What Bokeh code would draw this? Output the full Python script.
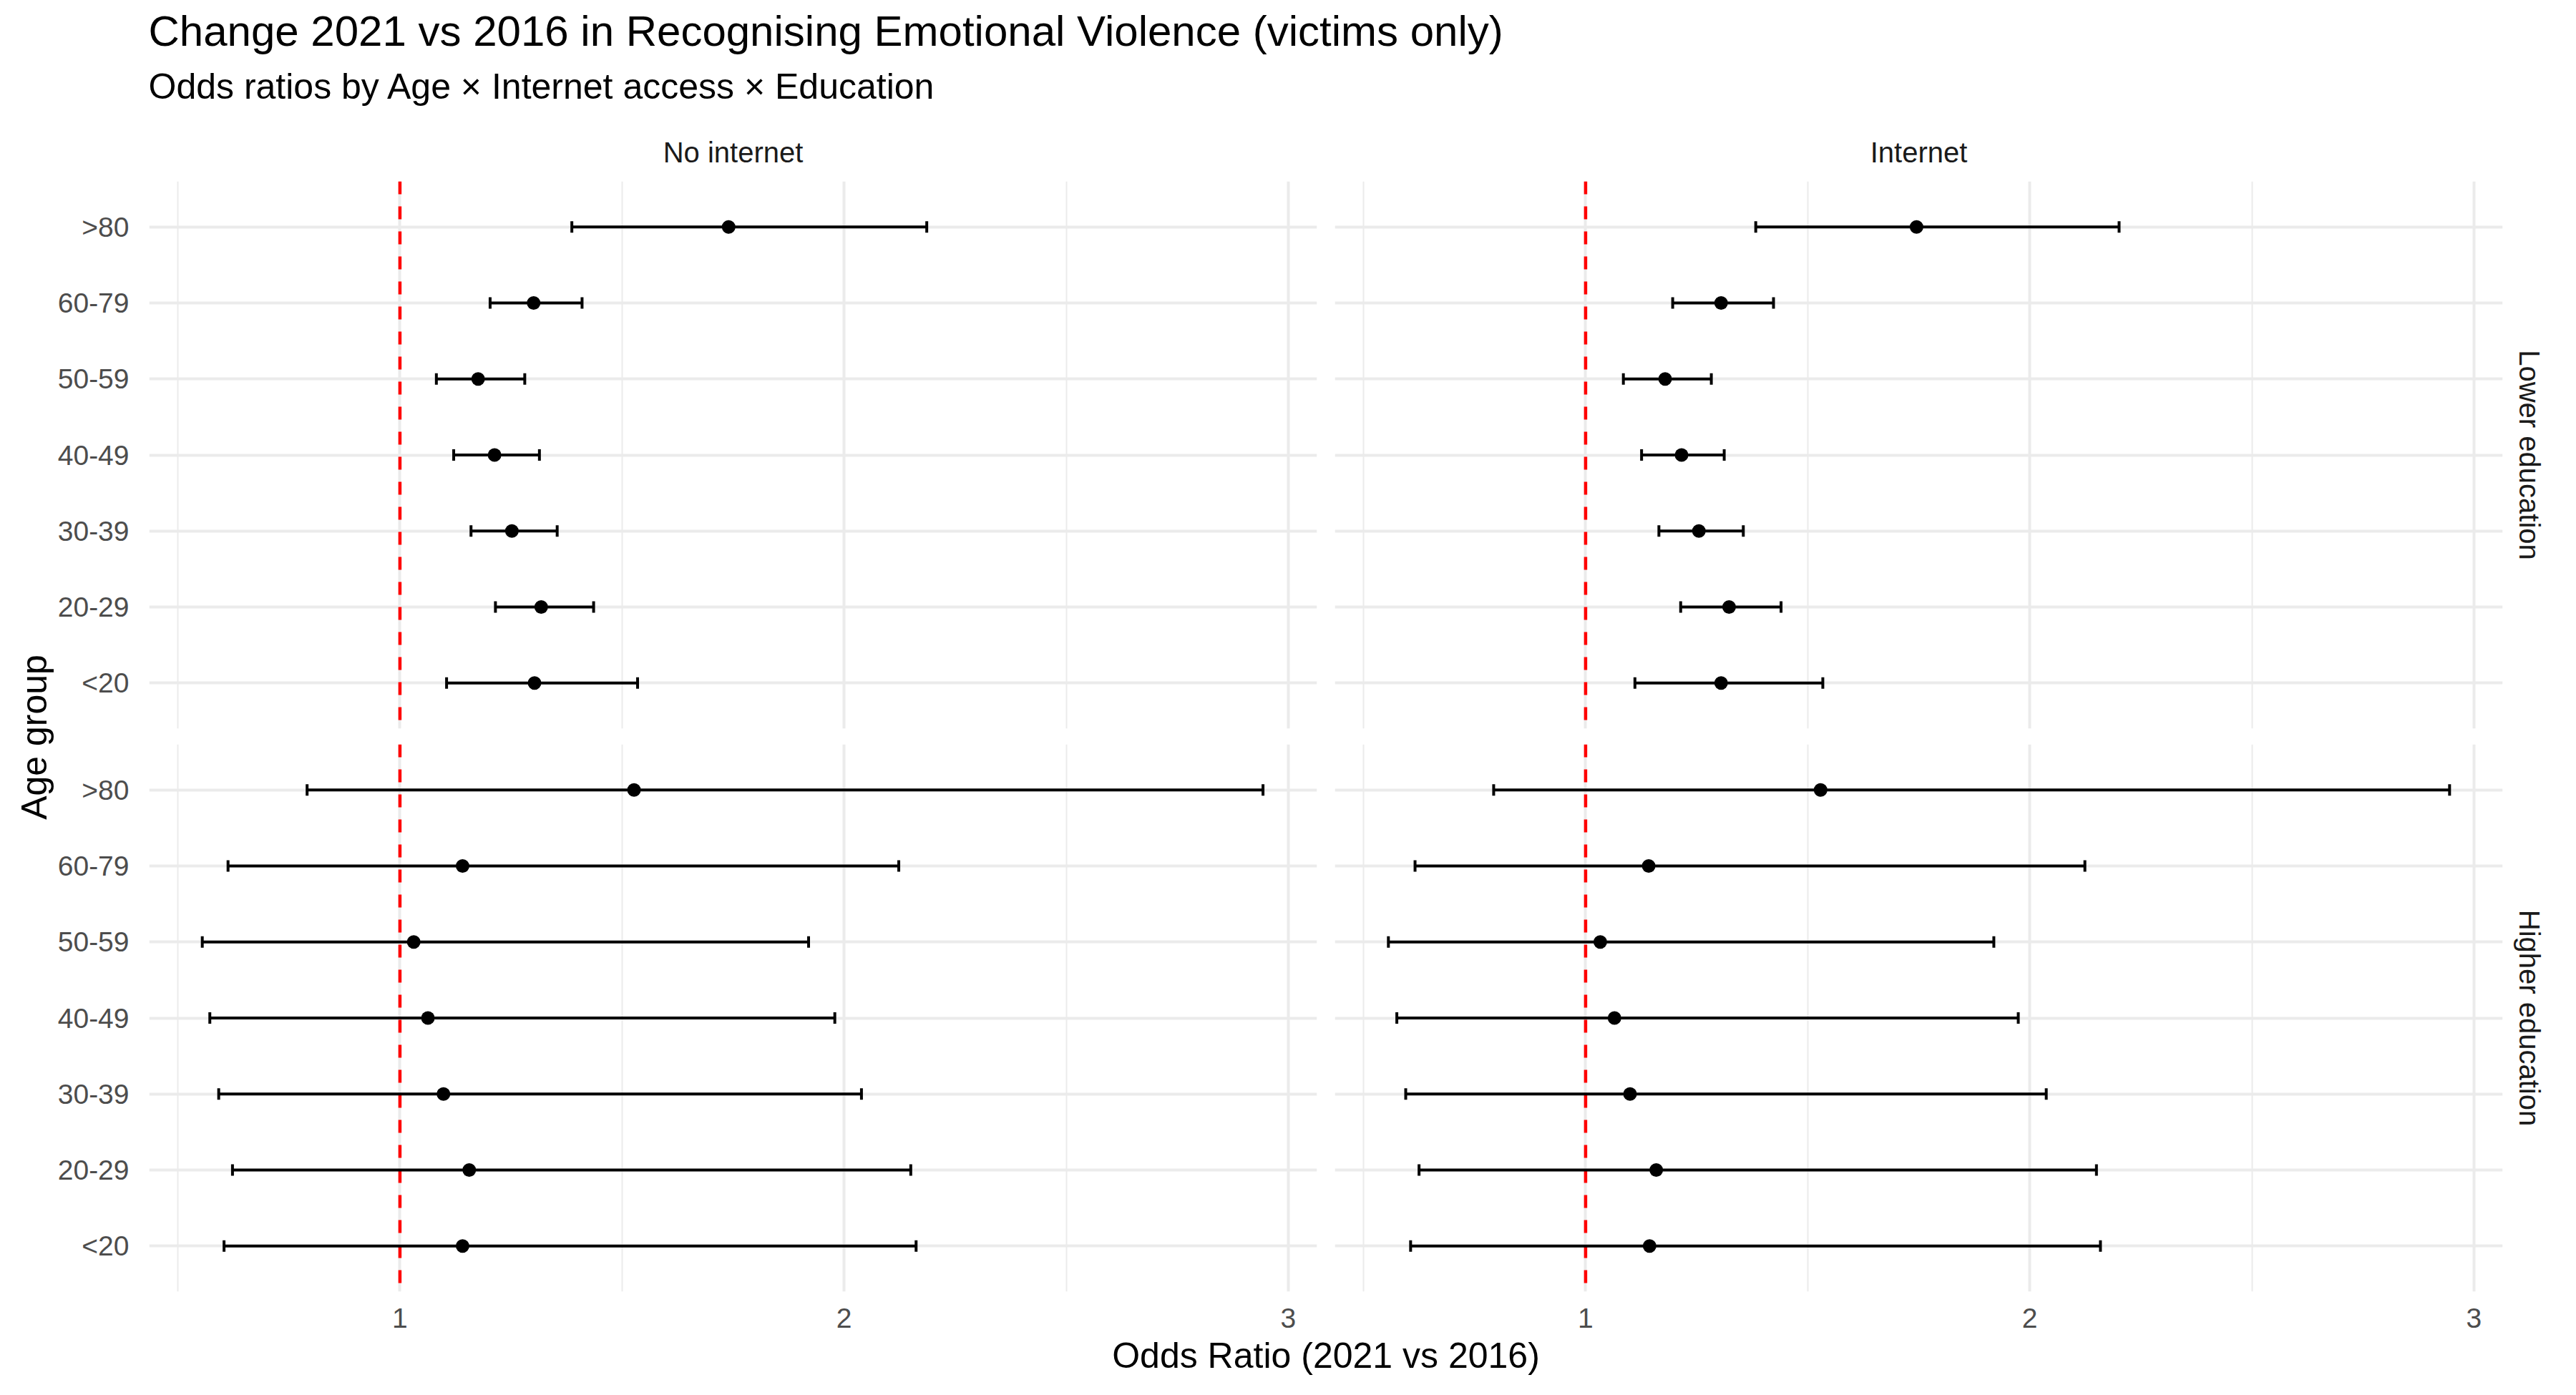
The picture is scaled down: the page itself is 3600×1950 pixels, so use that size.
import numpy as np
from bokeh.plotting import figure
from bokeh.models import (ColumnDataSource, Range1d, FactorRange, FixedTicker,
                          CategoricalTicker, Span, Label)
from bokeh.layouts import column, row
from bokeh.embed import file_html
from bokeh.resources import INLINE

FONT = "Liberation Sans"

# ---------------- data ----------------
ages = ["<20", "20-29", "30-39", "40-49", "50-59", "60-79", ">80"]

col_levels = ["No internet", "Internet"]
row_levels = ["Lower education", "Higher education"]

# Lower education, No internet
low_noint_or = [1.303, 1.318, 1.252, 1.213, 1.176, 1.301, 1.740]
low_noint_lo = [1.105, 1.215, 1.160, 1.121, 1.082, 1.203, 1.387]
low_noint_hi = [1.535, 1.436, 1.354, 1.314, 1.281, 1.410, 2.186]

# Lower education, Internet
low_int_or = [1.305, 1.323, 1.255, 1.216, 1.179, 1.305, 1.745]
low_int_lo = [1.111, 1.214, 1.165, 1.126, 1.085, 1.196, 1.383]
low_int_hi = [1.534, 1.440, 1.355, 1.312, 1.283, 1.423, 2.201]

# Higher education, No internet
high_noint_or = [1.141, 1.156, 1.098, 1.063, 1.031, 1.141, 1.527]
high_noint_lo = [0.604, 0.623, 0.592, 0.572, 0.555, 0.613, 0.791]
high_noint_hi = [2.162, 2.150, 2.039, 1.979, 1.920, 2.123, 2.943]

# Higher education, Internet
high_int_or = [1.144, 1.159, 1.100, 1.065, 1.033, 1.142, 1.529]
high_int_lo = [0.606, 0.625, 0.595, 0.575, 0.556, 0.616, 0.793]
high_int_hi = [2.159, 2.150, 2.037, 1.974, 1.919, 2.124, 2.945]

x_ticks = [1, 2, 3]
x_minor_ticks = [0.5, 1.5, 2.5]
ref_line = 1.0

TITLE = "Change 2021 vs 2016 in Recognising Emotional Violence (victims only)"
SUBTITLE = "Odds ratios by Age \u00d7 Internet access \u00d7 Education"
XLABEL = "Odds Ratio (2021 vs 2016)"
YLABEL = "Age group"

# ---------------- geometry / style ----------------
FW, FH = 1632, 765
HEADER_H = 253
LEFT_W = 75
STRIP_W = 90
BOT_B = 62
ROW1_H = 0 + FH + 11
ROW2_H = 11 + FH + BOT_B
BODY_H = ROW1_H + ROW2_H
FOOTER_H = 1950 - HEADER_H - BODY_H

TITLE_PX = 60
SUB_PX = 50
AXT_PX = 50
TICK_PX = 39
STRIP_PX = 40
BASE_FIX = 0.4  # label baseline correction (fraction of font size)

all_lo = low_noint_lo + low_int_lo + high_noint_lo + high_int_lo
all_hi = low_noint_hi + low_int_hi + high_noint_hi + high_int_hi
xmin, xmax = min(all_lo), max(all_hi)
pad = 0.05 * (xmax - xmin)
x_range = Range1d(xmin - pad, xmax + pad)
y_range = FactorRange(factors=ages, range_padding=0.1, range_padding_units="absolute")

GRID = "#EBEBEB"


def text_fig(w, h):
    p = figure(width=w, height=h, x_range=Range1d(0, w), y_range=Range1d(0, h),
               x_axis_type=None, y_axis_type=None, toolbar_location=None,
               output_backend="svg", title=None,
               min_border_left=0, min_border_right=0, min_border_top=0, min_border_bottom=0,
               outline_line_color=None, background_fill_color="white",
               border_fill_color="white")
    return p


def panel(ors, los, his, left_axis, bottom_axis, bl, br, bt, bb):
    p = figure(frame_width=FW, frame_height=FH, x_range=x_range, y_range=y_range,
               x_axis_location="below" if bottom_axis else None,
               y_axis_location="left" if left_axis else None,
               min_border_left=bl, min_border_right=br,
               min_border_top=bt, min_border_bottom=bb,
               toolbar_location=None, output_backend="svg", title=None,
               outline_line_color=None, background_fill_color="white",
               border_fill_color="white")
    p.xgrid.ticker = FixedTicker(ticks=x_ticks, minor_ticks=x_minor_ticks)
    p.xgrid.grid_line_color = GRID
    p.xgrid.grid_line_width = 4
    p.xgrid.minor_grid_line_color = GRID
    p.xgrid.minor_grid_line_width = 2
    p.ygrid.ticker = CategoricalTicker()
    p.ygrid.grid_line_color = GRID
    p.ygrid.grid_line_width = 4

    for ax in p.axis:
        ax.axis_line_color = None
        ax.major_tick_line_color = None
        ax.minor_tick_line_color = None
        ax.major_label_text_font = FONT
        ax.major_label_text_font_size = f"{TICK_PX}px"
        ax.major_label_text_color = "#4D4D4D"
    if bottom_axis:
        p.xaxis.ticker = FixedTicker(ticks=x_ticks, minor_ticks=[])
        p.xaxis.major_label_standoff = 17
    if left_axis:
        p.yaxis.major_label_standoff = 22

    p.add_layout(Span(location=ref_line, dimension="height", line_color="#FF0000",
                      line_dash="18 17", line_width=4.5, level="underlay"))

    src = ColumnDataSource(dict(age=ages, est=ors, lo=los, hi=his))
    p.segment(x0="lo", y0="age", x1="hi", y1="age", source=src,
              line_color="black", line_width=4)
    for key in ("lo", "hi"):
        p.rect(x=key, y="age", width=4, height=16, width_units="screen",
               height_units="screen", source=src, fill_color="black", line_color=None)
    p.scatter(x="est", y="age", source=src, marker="circle", size=19,
              fill_color="black", line_color=None)
    return p


tl = panel(low_noint_or, low_noint_lo, low_noint_hi, True, False, 133, 12, 0, 11)
tr = panel(low_int_or, low_int_lo, low_int_hi, False, False, 13, 13, 0, 11)
bl = panel(high_noint_or, high_noint_lo, high_noint_hi, True, True, 133, 12, 11, BOT_B)
br = panel(high_int_or, high_int_lo, high_int_hi, False, True, 13, 13, 11, BOT_B)


def hlabel(fig, x, baseline_from_top, h, text, size, color, align):
    fig.add_layout(Label(x=x, y=h - baseline_from_top + BASE_FIX * size, text=text,
                         text_font=FONT, text_font_size=f"{size}px", text_color=color,
                         text_align=align, text_baseline="alphabetic"))


# header: title, subtitle, column strips
header = text_fig(3600, HEADER_H)
hlabel(header, 207, 67, HEADER_H, TITLE, TITLE_PX, "black", "left")
hlabel(header, 207, 140, HEADER_H, SUBTITLE, SUB_PX, "black", "left")
left_c = LEFT_W + 133 + FW / 2
right_c = LEFT_W + 133 + FW + 12 + 13 + FW / 2
for cx, lab in zip([left_c, right_c], col_levels):
    hlabel(header, cx, 228, HEADER_H, lab, STRIP_PX, "#1A1A1A", "center")

# left: y axis title
ylab = text_fig(LEFT_W, BODY_H)
ylab.add_layout(Label(x=47, y=BODY_H - (1030 - HEADER_H), text=YLABEL, angle=np.pi / 2,
                      text_font=FONT, text_font_size=f"{AXT_PX}px", text_color="black",
                      text_align="center", text_baseline="middle"))

# right: row strips
strip = text_fig(STRIP_W, BODY_H)
row_centers = [BODY_H - FH / 2, BODY_H - (ROW1_H + 11 + FH / 2)]
for cy, lab in zip(row_centers, row_levels):
    strip.add_layout(Label(x=24, y=cy, text=lab, angle=-np.pi / 2, text_font=FONT,
                           text_font_size=f"{STRIP_PX}px", text_color="#1A1A1A",
                           text_align="center", text_baseline="middle"))

# footer: x axis title (baseline at y=1914 of the page)
footer = text_fig(3600, FOOTER_H)
hlabel(footer, LEFT_W + 133 + (2 * FW + 25) / 2, 1914 - (HEADER_H + BODY_H), FOOTER_H,
       XLABEL, AXT_PX, "black", "center")

layout = column(header,
                row(ylab, column(row(tl, tr), row(bl, br)), strip),
                footer)

open("out.html", "w").write(file_html(layout, INLINE))
